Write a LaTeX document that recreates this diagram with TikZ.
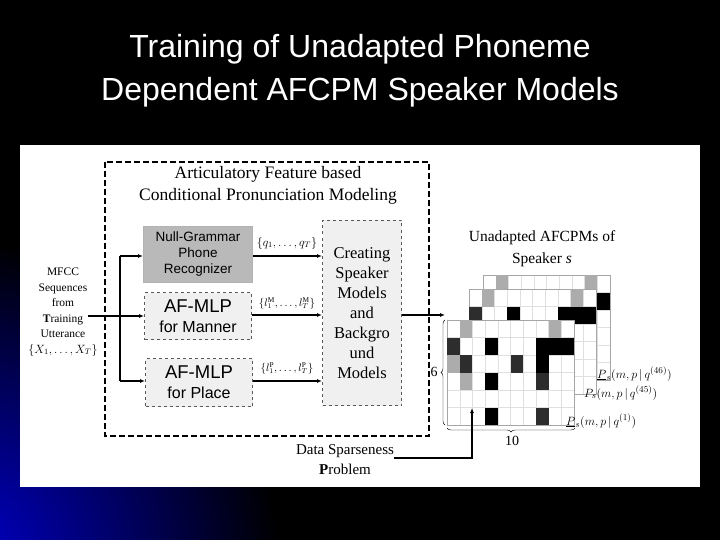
\documentclass[tikz,border=0pt]{standalone}
\usepackage{fontspec}
\setmainfont{Liberation Serif}
\newfontfamily\arial{Liberation Sans}
\usetikzlibrary{arrows.meta,decorations.pathreplacing}
\begin{document}
\begin{tikzpicture}[x=1pt,y=-1pt,
  arr/.style={-{Latex[length=5pt,width=4pt]},line width=1.3pt},
  dbox/.style={draw=gray!70!black,dashed,line width=1pt,fill=gray!12},
  lab/.style={font=\fontsize{12}{13}\selectfont,inner sep=0pt},
  grd/.style={draw=gray!25,line width=0.3pt},
  c1/.style={fill=gray!65},c2/.style={fill=gray!35!black},c3/.style={fill=black}]
\useasboundingbox (0,0) rectangle (720,540);
\fill[black] (0,0) rectangle (720,540);
\begin{scope}
\clip (0,0) rectangle (720,540);
\shade[inner color=blue!80!black, outer color=black] (-40,560) circle (320);
\end{scope}
\node[text=white,font=\arial\fontsize{32}{43}\selectfont,align=center] (title) at (360,71) {Training of Unadapted Phoneme\\Dependent AFCPM Speaker Models};
\fill[white] (20,145) rectangle (700,487);
\draw[dashed,line width=1.3pt,dash pattern=on 6pt off 3pt] (105,162) rectangle (429,436);
\node[lab,font=\fontsize{17.5}{22}\selectfont,align=center] (ttl) at (268,185) {Articulatory Feature based\\Conditional Pronunciation Modeling};
\node[draw=gray!60,fill=gray!55,line width=1pt,minimum width=109pt,minimum height=56pt,font=\arial\fontsize{13.5}{16}\selectfont,align=center,anchor=north west] (ng) at (143,226) {Null-Grammar\\Phone\\Recognizer};
\node[dbox,minimum width=107pt,minimum height=47pt,font=\arial\fontsize{18.5}{20}\selectfont,align=center,anchor=north west,inner sep=1pt] (man) at (144,292) {AF-MLP\\{\fontsize{16}{18}\selectfont for Manner}};
\node[dbox,minimum width=107pt,minimum height=48pt,font=\arial\fontsize{18.5}{20}\selectfont,align=center,anchor=north west,inner sep=1pt] (pla) at (145,358) {AF-MLP\\{\fontsize{16}{18}\selectfont for Place}};
\node[dbox,minimum width=79pt,minimum height=185pt,font=\fontsize{16.5}{20}\selectfont,align=center,anchor=north west] (cr) at (322,220) {Creating\\Speaker\\Models\\and\\Backgro\\und\\Models};
\node[lab,align=center,font=\fontsize{11.5}{15.5}\selectfont] (mfcc) at (63,312) {MFCC\\Sequences\\from\\\textbf{T}raining\\Utterance\\$\{X_1,\ldots,X_T\}$};
\coordinate (br) at (120,316);
\draw[line width=1.3pt] (88,316) -- (br);
\draw[line width=1.3pt] (120,256) -- (120,381);
\draw[arr] (120,256) -- (ng.west |- 0,256);
\draw[arr] (br) -- (man.west |- 0,316);
\draw[arr] (120,381) -- (pla.west |- 0,381);
\draw[arr] (ng.east |- 0,256) -- (cr.west |- 0,256);
\draw[arr] (man.east |- 0,315) -- (cr.west |- 0,315);
\draw[arr] (pla.east |- 0,381) -- (cr.west |- 0,381);
\node[lab] (lq) at (287,243) {$\{q_1,\ldots,q_T\}$};
\node[lab,font=\fontsize{10.5}{12}\selectfont] (lm) at (287,303) {$\{l_1^{\rm M},\ldots,l_T^{\rm M}\}$};
\node[lab,font=\fontsize{10.5}{12}\selectfont] (lp) at (287,368) {$\{l_1^{\rm P},\ldots,l_T^{\rm P}\}$};
\coordinate (mout) at (445,315);
\draw[arr] (cr.east |- 0,315) -- (mout);
\node[lab,align=center,font=\fontsize{15.5}{22}\selectfont] (un) at (542,249) {Unadapted AFCPMs of\\Speaker \textit{s}};
\def\cw{12.7}\def\ch{17.5}
\newcommand\mat[2]{%
 \fill[white] (#1,#2) rectangle ++(127,105);
 \foreach \i in {1,...,9}{\draw[grd] (#1+\i*\cw,#2) -- ++(0,105);}
 \foreach \j in {1,...,5}{\draw[grd] (#1,#2+\j*\ch) -- ++(127,0);}
 \draw[gray!70,line width=0.6pt] (#1,#2) rectangle ++(127,105);}
\mat{483}{275}
\foreach \c/\r/\s in {1/0/c1,8/0/c1,9/1/c3}{\fill[\s] (483+\c*\cw,275+\r*\ch) rectangle ++(\cw,\ch);}
\mat{469}{289}
\foreach \c/\r/\s in {1/0/c1,8/0/c1,0/1/c2,3/1/c3,7/1/c3,8/1/c3,9/1/c3}{\fill[\s] (469+\c*\cw,289+\r*\ch) rectangle ++(\cw,\ch);}
\mat{447}{320}
\foreach \c/\r/\s in {1/0/c1,8/0/c1,0/1/c2,3/1/c3,7/1/c3,8/1/c3,9/1/c3,0/2/c1,1/2/c2,5/2/c2,7/2/c3,1/3/c1,3/3/c3,7/3/c2,3/5/c3,7/5/c2}{\fill[\s] (447+\c*\cw,320+\r*\ch) rectangle ++(\cw,\ch);}
\node[lab,anchor=west,font=\fontsize{13}{14}\selectfont] (p46) at (597,374) {$\underline{P}_s(m,p\,|\,q^{(46)})$};
\node[lab,anchor=west,font=\fontsize{13}{14}\selectfont] (p45) at (584,393) {$P_s(m,p\,|\,q^{(45)})$};
\node[lab,anchor=west,font=\fontsize{13}{14}\selectfont] (p1) at (566,421) {$\underline{P}_s(m,p\,|\,q^{(1)})$};
\draw[decorate,decoration={brace,amplitude=4pt}] (445,425) -- (445,320);
\node[lab,font=\fontsize{14}{15}\selectfont] (six) at (434,372) {6};
\draw[decorate,decoration={brace,amplitude=4pt}] (575,428) -- (447,428);
\node[lab,font=\fontsize{14}{15}\selectfont] (ten) at (512,441) {10};
\node[lab,align=center,font=\fontsize{15}{20}\selectfont] (ds) at (345,460) {Data Sparseness\\\textbf{P}roblem};
\coordinate (tip) at (472,408);
\draw[arr] (ds.east |- 0,458) -| (tip);
\end{tikzpicture}
\end{document}
